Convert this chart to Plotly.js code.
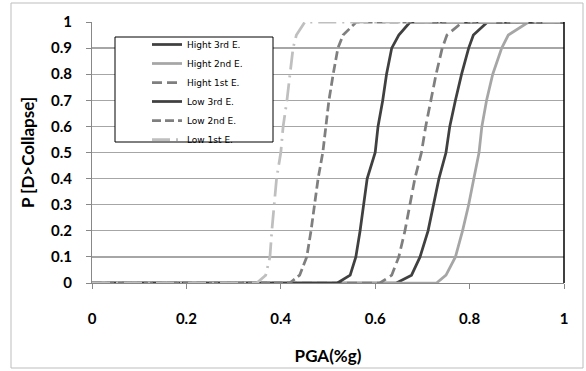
<!DOCTYPE html>
<html>
<head>
<meta charset="utf-8">
<script src="https://cdn.plot.ly/plotly-3.0.1.min.js"></script>
<style>
html,body{margin:0;padding:0;background:#fff;}
#chart{width:586px;height:371px;}
</style>
</head>
<body>
<div id="chart"></div>
<script>
// Data (PGA in g, probability of exceedance)
const seriesNames = ["Hight 3rd E.", "Hight 2nd E.", "Hight 1st E.", "Low 3rd E.", "Low 2nd E.", "Low 1st E."];

const pLevels = [0, 0, 0.03, 0.1, 0.2, 0.3, 0.4, 0.5, 0.6, 0.7, 0.8, 0.9, 0.95, 1, 1];

const pgaHight3rd = [0, 0.645, 0.677, 0.695, 0.712, 0.723, 0.735, 0.750, 0.758, 0.770, 0.783, 0.798, 0.808, 0.838, 1];
const pgaHight2nd = [0, 0.730, 0.750, 0.770, 0.785, 0.798, 0.809, 0.820, 0.826, 0.836, 0.849, 0.868, 0.882, 0.925, 1];
const pgaHight1st = [0, 0.610, 0.635, 0.650, 0.663, 0.674, 0.684, 0.698, 0.707, 0.718, 0.729, 0.742, 0.752, 0.785, 1];
const pgaLow3rd   = [0, 0.520, 0.547, 0.559, 0.568, 0.575, 0.583, 0.600, 0.606, 0.616, 0.624, 0.635, 0.650, 0.674, 1];
const pgaLow2nd   = [0, 0.419, 0.440, 0.455, 0.464, 0.472, 0.479, 0.489, 0.496, 0.502, 0.511, 0.521, 0.532, 0.560, 1];
const pgaLow1st   = [0, 0.349, 0.368, 0.377, 0.381, 0.386, 0.391, 0.400, 0.405, 0.413, 0.419, 0.426, 0.433, 0.451, 1];

const xTickVals = [0, 0.2, 0.4, 0.6, 0.8, 1];
const yTickVals = [0, 0.1, 0.2, 0.3, 0.4, 0.5, 0.6, 0.7, 0.8, 0.9, 1];

const styles = [
  {color: "#404040", dash: "solid"},
  {color: "#a6a6a6", dash: "solid"},
  {color: "#7f7f7f", dash: "10px,5px"},
  {color: "#404040", dash: "solid"},
  {color: "#7f7f7f", dash: "9px,4px"},
  {color: "#bfbfbf", dash: "18px,6px,2px,6px"}
];
const xs = [pgaHight3rd, pgaHight2nd, pgaHight1st, pgaLow3rd, pgaLow2nd, pgaLow1st];

const traces = seriesNames.map((n, i) => ({
  type: "scatter",
  mode: "lines",
  name: n,
  x: xs[i],
  y: pLevels,
  line: {color: styles[i].color, dash: styles[i].dash, width: 2.75},
  hoverinfo: "skip"
}));

const W = 472, H = 261, L = 92, T = 22;
function px(x){ return (x - L) / W; }
function py(y){ return (T + H - y) / H; }

const layout = {
  width: 586, height: 371,
  margin: {l: L, r: 586 - L - W, t: T, b: 371 - T - H, pad: 0},
  paper_bgcolor: "#ffffff",
  plot_bgcolor: "#ffffff",
  font: {family: "Lato, 'Open Sans', sans-serif", color: "#000"},
  showlegend: true,
  legend: {
    x: px(147), y: py(30), xanchor: "left", yanchor: "top",
    bgcolor: "rgba(0,0,0,0)", borderwidth: 0,
    font: {family: "'DejaVu Sans', sans-serif", size: 9, color: "#000"},
    tracegroupgap: 0, itemwidth: 30
  },
  xaxis: {
    range: [0, 1],
    tickvals: xTickVals,
    ticktext: xTickVals.map(v => String(v)),
    ticks: "outside", ticklen: 5, tickcolor: "#888", tickwidth: 1,
    showline: true, linecolor: "#888", linewidth: 1,
    showgrid: false, zeroline: false,
    tickfont: {family: "Lato, sans-serif", size: 15, color: "#000", weight: "bold"},
    ticklabelstandoff: 17,
    title: {text: "<b>PGA(%g)</b>", font: {family: "Lato, sans-serif", size: 17, color: "#000"}, standoff: 24},
    fixedrange: true
  },
  yaxis: {
    range: [0, 1],
    tickvals: yTickVals,
    ticktext: yTickVals.map(v => String(v)),
    ticks: "outside", ticklen: 5, tickcolor: "#888", tickwidth: 1,
    showline: true, linecolor: "#888", linewidth: 1,
    showgrid: true, gridcolor: "#a6a6a6", gridwidth: 1.3,
    zeroline: false,
    tickfont: {family: "Lato, sans-serif", size: 15, color: "#000", weight: "bold"},
    ticklabelstandoff: 11,
    title: {text: "<b>P [D>Collapse]</b>", font: {family: "Lato, sans-serif", size: 17, color: "#000"}, standoff: 12},
    fixedrange: true
  },
  shapes: [
    // outer chart border
    {type: "rect", xref: "paper", yref: "paper", x0: px(11), x1: px(583), y0: py(368), y1: py(3),
     line: {color: "#bdbdbd", width: 1}, fillcolor: "rgba(0,0,0,0)", layer: "below"},
    // right plot edge
    {type: "line", xref: "paper", yref: "paper", x0: 1, x1: 1, y0: 0, y1: 1,
     line: {color: "#000", width: 1.5}},
    // legend box
    {type: "rect", xref: "paper", yref: "paper", x0: px(115), x1: px(273), y0: py(142), y1: py(37),
     line: {color: "#000", width: 1}, fillcolor: "#ffffff", layer: "above"}
  ]
};

Plotly.newPlot("chart", traces, layout, {displayModeBar: false, staticPlot: true});
</script>
</body>
</html>
